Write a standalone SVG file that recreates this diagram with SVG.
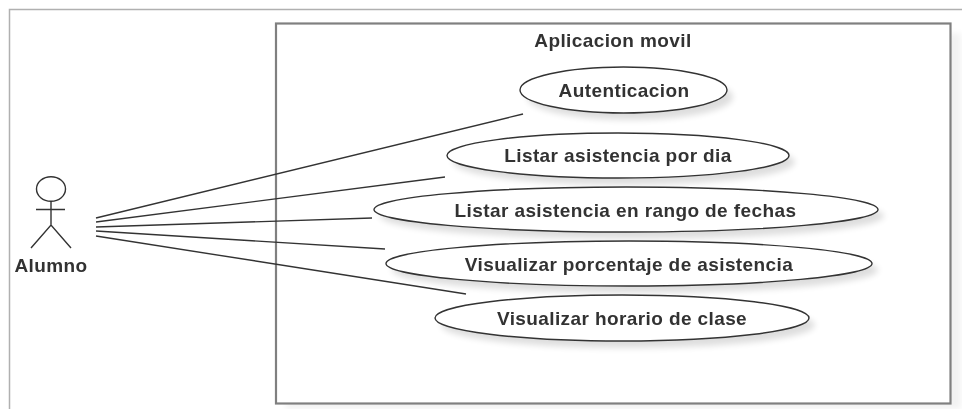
<svg xmlns="http://www.w3.org/2000/svg" width="962" height="409" viewBox="0 0 962 409">
<style>
.frame{fill:none;stroke:#b0b0b0;stroke-width:1.5}
.sys{fill:#fff;stroke:#808080;stroke-width:2.2}
.uc{fill:#fff;stroke:#333;stroke-width:1.4}
.ln{fill:none;stroke:#333;stroke-width:1.4}
.sh{fill:#000;opacity:.13;filter:url(#b)}
text{font-family:"Liberation Sans",Arial,sans-serif;font-weight:bold;font-size:19px;letter-spacing:.4px;fill:#333;text-anchor:middle;filter:url(#t)}
</style>
<defs>
<filter id="b" x="-20%" y="-40%" width="140%" height="180%"><feGaussianBlur stdDeviation="3"/></filter>
<filter id="t" x="-5%" y="-20%" width="110%" height="140%"><feGaussianBlur stdDeviation="0.4"/></filter>
</defs>
<rect width="962" height="409" fill="#fff"/>
<path class="frame" d="M9.5 409V9.5H962"/>
<g id="system">
<rect x="286" y="33" width="675" height="376" fill="#000" opacity=".05" filter="url(#b)"/>
<rect class="sys" x="276" y="23.5" width="674.5" height="380"/>
<text x="613" y="46.5">Aplicacion movil</text>
</g>
<g id="connectors">
<path class="ln" d="M96 218L523 114"/>
<path class="ln" d="M96 222L445 177"/>
<path class="ln" d="M96 227L372 218"/>
<path class="ln" d="M96 231L385 249"/>
<path class="ln" d="M96 236L466 294"/>
</g>
<g id="actor">
<ellipse class="ln" cx="51" cy="189" rx="14.5" ry="12.3"/>
<path class="ln" d="M51 201V225M36 209.5H65M31 248L51 225L71 248"/>
<text x="51" y="272">Alumno</text>
</g>
<g id="uc1">
<ellipse class="sh" cx="630" cy="97" rx="103" ry="23"/>
<ellipse class="uc" cx="623.5" cy="90" rx="103.5" ry="23"/>
<text x="624" y="96.5">Autenticacion</text>
</g>
<g id="uc2">
<ellipse class="sh" cx="624" cy="162" rx="171" ry="23"/>
<ellipse class="uc" cx="618" cy="155.5" rx="171" ry="22.5"/>
<text x="618" y="162">Listar asistencia por dia</text>
</g>
<g id="uc3">
<ellipse class="sh" cx="632" cy="216" rx="252" ry="23"/>
<ellipse class="uc" cx="626" cy="209.5" rx="252" ry="22.5"/>
<text x="625.5" y="216.5">Listar asistencia en rango de fechas</text>
</g>
<g id="uc4">
<ellipse class="sh" cx="635" cy="270" rx="243" ry="23"/>
<ellipse class="uc" cx="629" cy="263.5" rx="243" ry="22.5"/>
<text x="629" y="270.5">Visualizar porcentaje de asistencia</text>
</g>
<g id="uc5">
<ellipse class="sh" cx="628" cy="325" rx="187" ry="23"/>
<ellipse class="uc" cx="622" cy="318" rx="187" ry="23"/>
<text x="622" y="325">Visualizar horario de clase</text>
</g>
</svg>
